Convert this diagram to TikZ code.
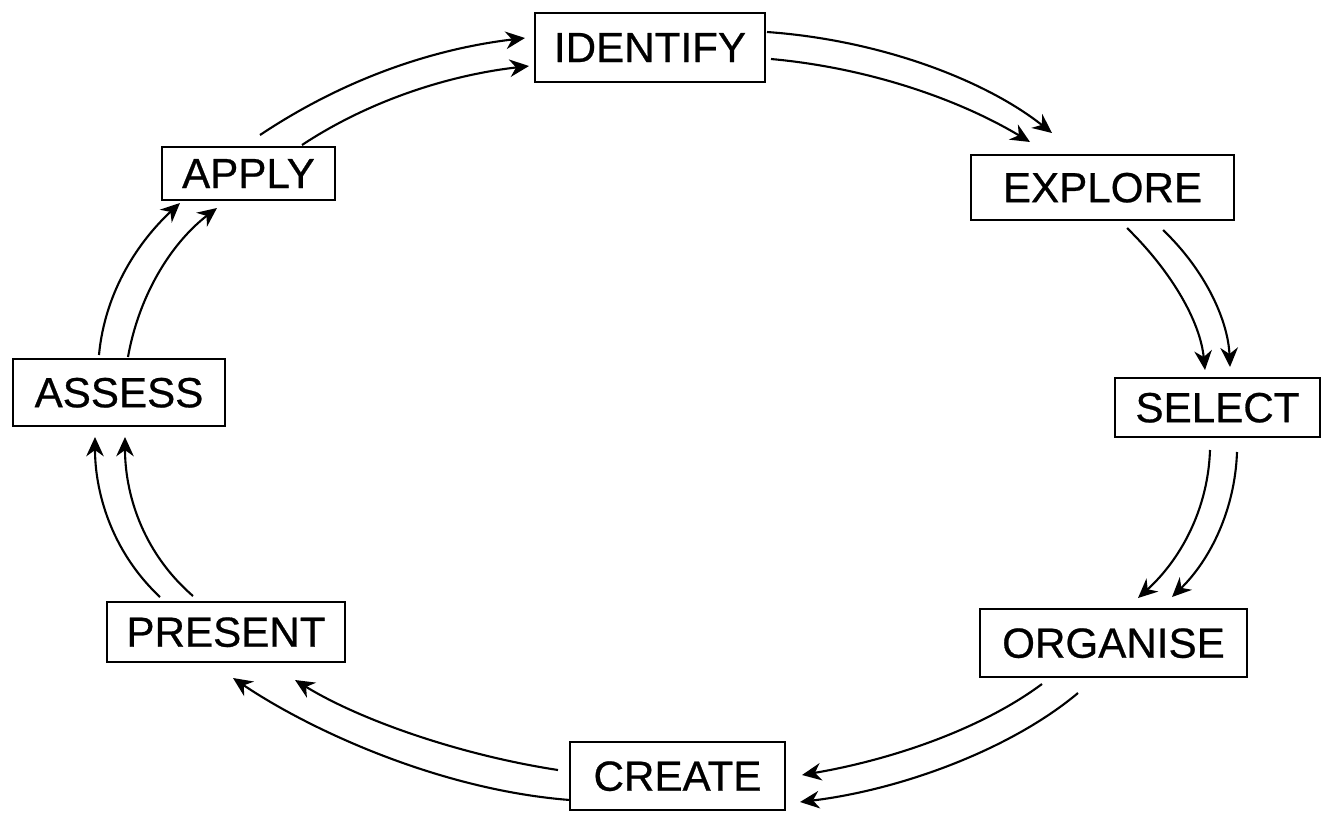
\documentclass[tikz,border=0pt]{standalone}
\usepackage{fontspec}
\setmainfont{Liberation Sans}
\newfontfamily\labfont{Liberation Sans}[FakeBold=0.6]
\usetikzlibrary{arrows.meta}
\begin{document}
\begin{tikzpicture}[x=0.02cm,y=-0.02cm,
  box/.style={draw=black, line width=1.5pt, inner sep=0pt, font=\labfont\fontsize{24}{28}\selectfont, text depth=0pt},
  flow/.style={line width=1.2pt, -{Stealth[length=11pt,width=10pt]}}]
\useasboundingbox (0,0) rectangle (1328,812);
% boxes
\node[box, minimum width=4.60cm, minimum height=1.38cm] (identify) at (650,47.5) {IDENTIFY};
\node[box, minimum width=5.26cm, minimum height=1.30cm] (explore) at (1102.5,187.5) {EXPLORE};
\node[box, minimum width=4.10cm, minimum height=1.18cm] (select) at (1217.5,407.5) {SELECT};
\node[box, minimum width=5.34cm, minimum height=1.36cm] (organise) at (1113.5,643) {ORGANISE};
\node[box, minimum width=4.30cm, minimum height=1.36cm] (create) at (677.5,776) {CREATE};
\node[box, minimum width=4.76cm, minimum height=1.20cm] (present) at (226,632) {PRESENT};
\node[box, minimum width=4.24cm, minimum height=1.34cm] (assess) at (119,392.5) {ASSESS};
\node[box, minimum width=3.46cm, minimum height=1.06cm] (apply) at (248.5,173.5) {APPLY};
% connector ends
\coordinate (a1s) at (260,135);  \coordinate (a1e) at (525,38);
\coordinate (a2s) at (302,145);  \coordinate (a2e) at (529,66);
\coordinate (b1s) at (767,32);   \coordinate (b1e) at (1052,133);
\coordinate (b2s) at (771,59);   \coordinate (b2e) at (1030,142);
\coordinate (c1s) at (1127,228); \coordinate (c1e) at (1205,370);
\coordinate (c2s) at (1163,230); \coordinate (c2e) at (1230,367);
\coordinate (d1s) at (1210,450); \coordinate (d1e) at (1138,598);
\coordinate (d2s) at (1237,452); \coordinate (d2e) at (1172,597);
\coordinate (e1s) at (1042,684); \coordinate (e1e) at (802,775);
\coordinate (e2s) at (1078,693); \coordinate (e2e) at (800,802);
\coordinate (f1s) at (558,770);  \coordinate (f1e) at (295,680);
\coordinate (f2s) at (570,800);  \coordinate (f2e) at (233,678);
\coordinate (g1s) at (160,597);  \coordinate (g1e) at (95,437);
\coordinate (g2s) at (193,596);  \coordinate (g2e) at (125,437);
\coordinate (h1s) at (99,355);   \coordinate (h1e) at (180,203);
\coordinate (h2s) at (128,357);  \coordinate (h2e) at (217,208);
% APPLY -> IDENTIFY
\draw[flow] (a1s) .. controls (350,75) and (440,48) .. (a1e);
\draw[flow] (a2s) .. controls (370,100) and (450,75) .. (a2e);
% IDENTIFY -> EXPLORE
\draw[flow] (b1s) .. controls (880,40) and (985,80) .. (b1e);
\draw[flow] (b2s) .. controls (870,68) and (960,100) .. (b2e);
% EXPLORE -> SELECT
\draw[flow] (c1s) .. controls (1170,270) and (1200,320) .. (c1e);
\draw[flow] (c2s) .. controls (1205,270) and (1228,320) .. (c2e);
% SELECT -> ORGANISE
\draw[flow] (d1s) .. controls (1208,510) and (1180,560) .. (d1e);
\draw[flow] (d2s) .. controls (1235,510) and (1210,560) .. (d2e);
% ORGANISE -> CREATE
\draw[flow] (e1s) .. controls (980,730) and (890,760) .. (e1e);
\draw[flow] (e2s) .. controls (1010,750) and (900,790) .. (e2e);
% CREATE -> PRESENT
\draw[flow] (f1s) .. controls (460,755) and (360,720) .. (f1e);
\draw[flow] (f2s) .. controls (440,790) and (310,730) .. (f2e);
% PRESENT -> ASSESS
\draw[flow] (g1s) .. controls (110,550) and (95,490) .. (g1e);
\draw[flow] (g2s) .. controls (140,550) and (125,490) .. (g2e);
% ASSESS -> APPLY
\draw[flow] (h1s) .. controls (105,290) and (140,240) .. (h1e);
\draw[flow] (h2s) .. controls (140,290) and (175,240) .. (h2e);
\end{tikzpicture}
\end{document}
